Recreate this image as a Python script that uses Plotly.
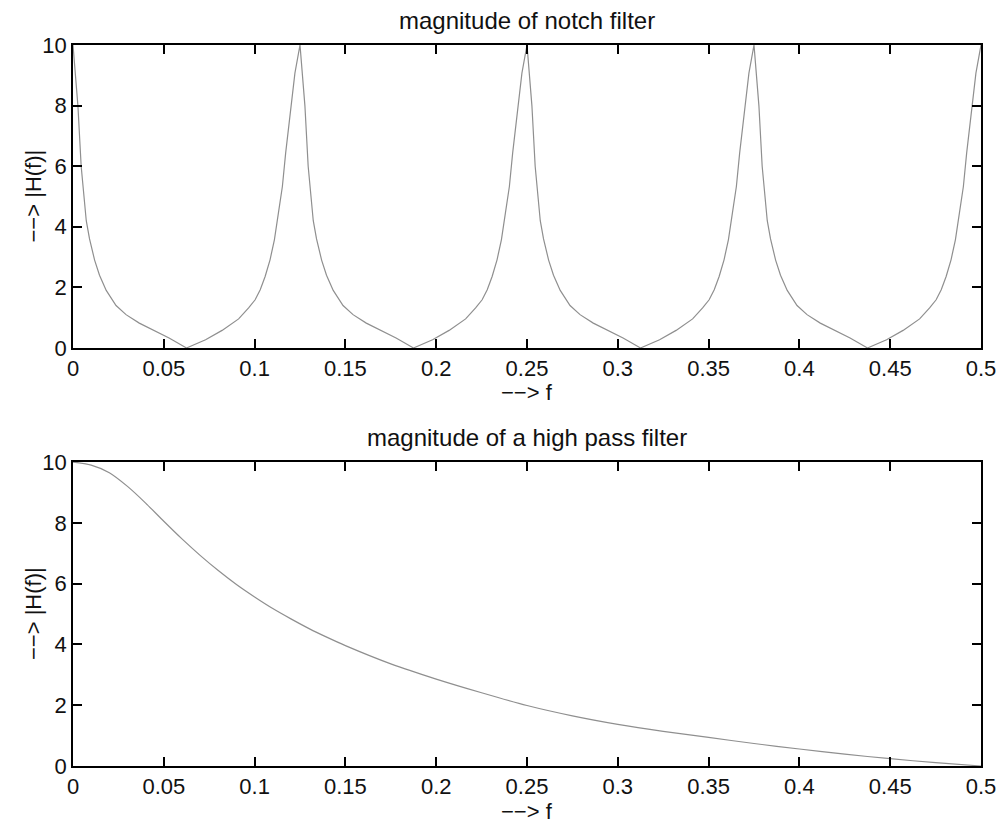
import plotly.graph_objects as go
from plotly.subplots import make_subplots

# ---- data ----
notch_f = [
    0, 0.0027, 0.0045, 0.0055, 0.0073, 0.0091, 0.0119, 0.0146, 0.0183, 0.0237, 0.0292, 0.0365, 0.0456, 0.0529,
    0.0625, 0.073, 0.0821, 0.0912, 0.0967, 0.1003, 0.1031, 0.1058, 0.1085, 0.1109, 0.1131, 0.1153, 0.1171, 0.1195, 0.1222,
    0.125, 0.1277, 0.1295, 0.1305, 0.1323, 0.1341, 0.1369, 0.1396, 0.1433, 0.1487, 0.1542, 0.1615, 0.1706, 0.1779,
    0.1875, 0.198, 0.2071, 0.2162, 0.2217, 0.2253, 0.2281, 0.2308, 0.2335, 0.2359, 0.2381, 0.2403, 0.2421, 0.2445, 0.2472,
    0.25, 0.2527, 0.2545, 0.2555, 0.2573, 0.2591, 0.2619, 0.2646, 0.2683, 0.2737, 0.2792, 0.2865, 0.2956, 0.3029,
    0.3125, 0.323, 0.3321, 0.3412, 0.3467, 0.3503, 0.3531, 0.3558, 0.3585, 0.3609, 0.3631, 0.3653, 0.3671, 0.3695, 0.3722,
    0.375, 0.3777, 0.3795, 0.3805, 0.3823, 0.3841, 0.3869, 0.3896, 0.3933, 0.3987, 0.4042, 0.4115, 0.4206, 0.4279,
    0.4375, 0.448, 0.4571, 0.4662, 0.4717, 0.4753, 0.4781, 0.4808, 0.4835, 0.4859, 0.4881, 0.4903, 0.4921, 0.4945, 0.4972,
    0.5,
]
notch_h = [
    10, 8, 6, 5.3, 4.2, 3.6, 2.9, 2.4, 1.9, 1.4, 1.1, 0.82, 0.55, 0.33,
    0, 0.27, 0.58, 0.96, 1.32, 1.59, 1.92, 2.36, 2.91, 3.57, 4.45, 5.33, 6.43, 7.75, 9.07,
    10, 8, 6, 5.3, 4.2, 3.6, 2.9, 2.4, 1.9, 1.4, 1.1, 0.82, 0.55, 0.33,
    0, 0.27, 0.58, 0.96, 1.32, 1.59, 1.92, 2.36, 2.91, 3.57, 4.45, 5.33, 6.43, 7.75, 9.07,
    10, 8, 6, 5.3, 4.2, 3.6, 2.9, 2.4, 1.9, 1.4, 1.1, 0.82, 0.55, 0.33,
    0, 0.27, 0.58, 0.96, 1.32, 1.59, 1.92, 2.36, 2.91, 3.57, 4.45, 5.33, 6.43, 7.75, 9.07,
    10, 8, 6, 5.3, 4.2, 3.6, 2.9, 2.4, 1.9, 1.4, 1.1, 0.82, 0.55, 0.33,
    0, 0.27, 0.58, 0.96, 1.32, 1.59, 1.92, 2.36, 2.91, 3.57, 4.45, 5.33, 6.43, 7.75, 9.07,
    10,
]

hp_f = [0, 0.01, 0.02, 0.03, 0.04, 0.05, 0.06, 0.07, 0.08, 0.09, 0.10, 0.11, 0.12, 0.13, 0.14, 0.15,
        0.175, 0.2, 0.225, 0.25, 0.275, 0.3, 0.325, 0.35, 0.375, 0.4, 0.425, 0.45, 0.475, 0.5]
hp_h = [10, 9.9, 9.65, 9.2, 8.65, 8.05, 7.47, 6.93, 6.43, 5.97, 5.56, 5.18, 4.84, 4.52, 4.23, 3.96,
        3.36, 2.86, 2.41, 1.99, 1.65, 1.37, 1.14, 0.94, 0.74, 0.56, 0.39, 0.24, 0.11, 0]

x_tickvals = [0, 0.05, 0.1, 0.15, 0.2, 0.25, 0.3, 0.35, 0.4, 0.45, 0.5]
x_ticktext = ["0", "0.05", "0.1", "0.15", "0.2", "0.25", "0.3", "0.35", "0.4", "0.45", "0.5"]
y_tickvals = [0, 2, 4, 6, 8, 10]
y_ticktext = ["0", "2", "4", "6", "8", "10"]

titles = ["magnitude of notch filter", "magnitude of a high pass filter"]
x_label = "\u2212\u2212> f"
y_label = "\u2212\u2212> |H(f)|"

# ---- figure ----
FONT = "Liberation Sans, Arial, Helvetica, sans-serif"
TXT = "#111111"
LINE = "#8f8f8f"

fig = make_subplots(rows=2, cols=1, vertical_spacing=0.0)

fig.add_trace(go.Scatter(x=notch_f, y=notch_h, mode="lines",
                         line=dict(color=LINE, width=1.2), showlegend=False), row=1, col=1)
fig.add_trace(go.Scatter(x=hp_f, y=hp_h, mode="lines",
                         line=dict(color=LINE, width=1.2, shape="spline", smoothing=0.8),
                         showlegend=False), row=2, col=1)

top_dom = [0.5798, 1.0]
bot_dom = [0.0, 0.4216]

axis_common = dict(showline=True, linecolor="black", linewidth=1.5, mirror="ticks",
                   ticks="inside", ticklen=9, tickwidth=1.5, tickcolor="black",
                   showgrid=False, zeroline=False,
                   tickfont=dict(family=FONT, size=22, color=TXT))

fig.update_xaxes(range=[0, 0.5], tickmode="array", tickvals=x_tickvals, ticktext=x_ticktext,
                 **axis_common)
fig.update_yaxes(range=[0, 10], tickmode="array", tickvals=y_tickvals, ticktext=y_ticktext,
                 **axis_common)
fig.update_layout(yaxis=dict(domain=top_dom), yaxis2=dict(domain=bot_dom))

annotations = []
for dom, title in zip([top_dom, bot_dom], titles):
    annotations.append(dict(text=title, xref="paper", yref="paper", x=0.5, y=dom[1],
                            xanchor="center", yanchor="middle", yshift=25, showarrow=False,
                            font=dict(family=FONT, size=24, color=TXT)))
    annotations.append(dict(text=x_label, xref="paper", yref="paper", x=0.5, y=dom[0],
                            xanchor="center", yanchor="middle", yshift=-45, showarrow=False,
                            font=dict(family=FONT, size=22, color=TXT)))
    annotations.append(dict(text=y_label, xref="paper", yref="paper", x=0, y=(dom[0] + dom[1]) / 2,
                            xanchor="center", yanchor="middle", xshift=-40, textangle=-90,
                            showarrow=False, font=dict(family=FONT, size=22, color=TXT)))

fig.update_layout(
    width=1008, height=825, autosize=False,
    margin=dict(l=73, r=21, t=45, b=59),
    paper_bgcolor="white", plot_bgcolor="white",
    annotations=annotations,
    font=dict(family=FONT, color=TXT),
)

fig.write_html("out.html")
